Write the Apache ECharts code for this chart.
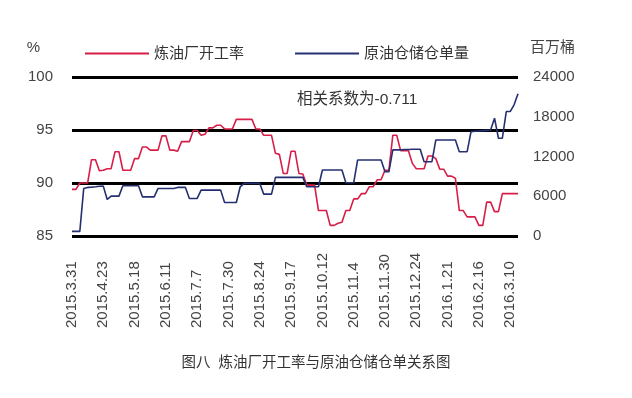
<!DOCTYPE html>
<html>
<head>
<meta charset="utf-8">
<script src="https://cdn.jsdelivr.net/npm/echarts@6/dist/echarts.min.js"></script>
<style>
  html, body { margin: 0; padding: 0; background: #fff; }
  #main { width: 632px; height: 398px; }
</style>
</head>
<body>
<div id="main"></div>
<script>
// 初始化图表
var chart = echarts.init(document.getElementById('main'));

// x轴刻度标签（每8个点一个）
var tickLabels = ['2015.3.31', '2015.4.23', '2015.5.18', '2015.6.11', '2015.7.7',
    '2015.7.30', '2015.8.24', '2015.9.17', '2015.10.12', '2015.11.4',
    '2015.11.30', '2015.12.24', '2016.1.21', '2016.2.16', '2016.3.10'];

// 炼油厂开工率 (%)
var refineryRate = [
    89.4, 89.4, 90.0, 90.0, 90.0, 92.2, 92.2, 91.15, 91.2, 91.35,
    91.35, 92.95, 92.95, 91.2, 91.2, 91.2, 92.3, 92.3, 93.4, 93.4,
    93.1, 93.1, 93.1, 94.45, 94.45, 93.1, 93.1, 93.0, 93.9, 93.9,
    93.9, 94.95, 94.95, 94.5, 94.6, 95.2, 95.2, 95.45, 95.45, 95.1,
    95.1, 95.1, 96.0, 96.0, 96.0, 96.0, 96.0, 95.1, 95.1, 94.5,
    94.5, 94.5, 92.8, 92.7, 90.9, 90.9, 93.0, 93.0, 90.9, 90.85,
    89.8, 89.8, 89.8, 87.4, 87.4, 87.4, 86.0, 86.0, 86.2, 86.3,
    87.4, 87.4, 88.5, 88.5, 89.0, 89.0, 89.65, 89.65, 90.3, 90.3,
    91.2, 91.2, 94.5, 94.5, 93.05, 93.05, 93.05, 91.85, 91.35, 91.35,
    91.35, 92.55, 92.55, 92.3, 91.3, 91.3, 90.65, 90.65, 90.45, 87.4,
    87.4, 86.8, 86.8, 86.8, 86.0, 86.0, 88.2, 88.2, 87.3, 87.3,
    89.0, 89.0, 89.0, 89.0, 89.0
];

// 原油仓储仓单量 (百万桶)
var crudeStock = [
    700, 700, 700, 7180, 7333, 7380, 7430, 7500, 7530, 5515,
    6015, 6015, 6015, 7575, 7575, 7575, 7575, 7575, 5909, 5909,
    5909, 5909, 7180, 7180, 7180, 7180, 7180, 7333, 7333, 7333,
    5666, 5666, 5666, 6924, 6924, 6924, 6924, 6924, 6924, 5060,
    5060, 5060, 5060, 7424, 7939, 7939, 7939, 7939, 7939, 6318,
    6318, 6318, 8848, 8848, 8848, 8848, 8848, 8848, 8848, 8848,
    7424, 7424, 7424, 7424, 9954, 9954, 9954, 9954, 9954, 9954,
    8030, 8030, 8030, 11468, 11468, 11468, 11468, 11468, 11468, 11468,
    9700, 9700, 13000, 13000, 13000, 13050, 13050, 13090, 13090, 13090,
    11211, 11211, 11211, 14500, 14500, 14500, 14500, 14500, 14500, 12726,
    12726, 12726, 15756, 15800, 15850, 15900, 15950, 16000, 17786, 14756,
    14756, 18786, 18786, 19800, 21470
];

var categories = [];
for (var i = 0; i < refineryRate.length; i++) {
    categories.push(i % 8 === 0 ? tickLabels[i / 8] : 'p' + i);
}

var font = '"Liberation Sans", Arial, "Noto Sans CJK SC", sans-serif';
var txt = '#444';

var option = {
    animation: false,
    textStyle: { fontFamily: font },
    legend: {
        left: 79,
        top: 41,
        itemWidth: 64,
        itemHeight: 14,
        itemGap: 50,
        itemStyle: { opacity: 0 },
        textStyle: { fontSize: 15, color: '#333', fontFamily: font },
        data: ['炼油厂开工率', '原油仓储仓单量']
    },
    grid: { left: 72, right: 114, top: 77, bottom: 162 },
    xAxis: {
        type: 'category',
        boundaryGap: false,
        data: categories,
        axisLine: { show: false },
        axisTick: { show: false },
        axisLabel: {
            interval: 7,
            rotate: 90,
            align: 'left',
            verticalAlign: 'middle',
            margin: 92,
            fontSize: 15,
            color: txt
        }
    },
    yAxis: [
        {
            type: 'value',
            name: '%',
            nameLocation: 'end',
            nameGap: 29,
            nameTextStyle: { fontSize: 15, color: txt, align: 'right', verticalAlign: 'middle', padding: [0, 32, 0, 0] },
            min: 85,
            max: 100,
            interval: 5,
            axisLine: { show: false },
            axisTick: { show: false },
            axisLabel: { fontSize: 15, color: txt, margin: 19 },
            splitLine: { lineStyle: { color: '#000', width: 3 } }
        },
        {
            type: 'value',
            name: '百万桶',
            nameLocation: 'end',
            nameGap: 29,
            nameTextStyle: { fontSize: 15, color: txt, align: 'left', verticalAlign: 'middle', padding: [0, 0, 0, 12] },
            min: 0,
            max: 24000,
            interval: 6000,
            axisLine: { show: false },
            axisTick: { show: false },
            axisLabel: {
                fontSize: 15, color: txt, margin: 15,
                formatter: function (v) { return String(v); }
            },
            splitLine: { show: false }
        }
    ],
    series: [
        {
            name: '炼油厂开工率',
            type: 'line',
            yAxisIndex: 0,
            data: refineryRate,
            symbol: 'none',
            lineStyle: { color: '#d81e48', width: 1.6 },
            itemStyle: { color: '#d81e48' }
        },
        {
            name: '原油仓储仓单量',
            type: 'line',
            yAxisIndex: 1,
            data: crudeStock,
            symbol: 'none',
            lineStyle: { color: '#243070', width: 1.6 },
            itemStyle: { color: '#243070' }
        }
    ],
    graphic: [
        {
            type: 'text',
            left: 297,
            top: 92,
            style: { text: '相关系数为-0.711', fontSize: 15.5, fill: '#333', fontFamily: font }
        },
        {
            type: 'text',
            left: 'center',
            top: 356,
            style: { text: '图八  炼油厂开工率与原油仓储仓单关系图', fontSize: 14.5, fill: '#333', fontFamily: font }
        }
    ]
};

chart.setOption(option);
</script>
</body>
</html>
